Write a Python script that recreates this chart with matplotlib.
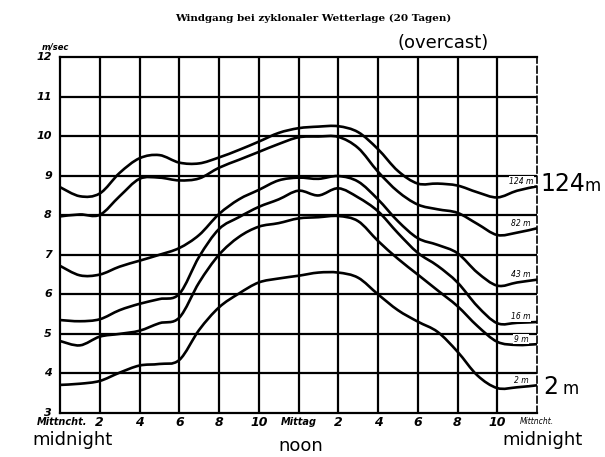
import matplotlib
matplotlib.use("Agg")
import matplotlib.pyplot as plt
from matplotlib.path import Path
from matplotlib.patches import PathPatch
from matplotlib.transforms import blended_transform_factory

# ---- data (hour of day, wind speed m/sec) ----
hours = [0, 1, 2, 3, 4, 5, 6, 7, 8, 9, 10, 11, 12,
         13, 14, 15, 16, 17, 18, 19, 20, 21, 22, 23, 24]

wind_124m = [8.71, 8.48, 8.55, 9.07, 9.44, 9.52, 9.33, 9.31, 9.46, 9.65, 9.86, 10.08, 10.2,
             10.24, 10.25, 10.1, 9.67, 9.12, 8.8, 8.8, 8.75, 8.58, 8.45, 8.62, 8.73]
wind_82m = [7.97, 8.02, 8.01, 8.48, 8.92, 8.95, 8.88, 8.93, 9.2, 9.4, 9.6, 9.8, 9.97,
            9.99, 9.98, 9.7, 9.1, 8.6, 8.27, 8.15, 8.06, 7.78, 7.5, 7.56, 7.67]
wind_43m = [6.72, 6.48, 6.5, 6.7, 6.85, 7.0, 7.17, 7.5, 8.03, 8.4, 8.64, 8.88, 8.95,
            8.92, 8.99, 8.85, 8.4, 7.85, 7.42, 7.25, 7.04, 6.55, 6.22, 6.3, 6.37]
wind_16m = [5.35, 5.32, 5.37, 5.6, 5.76, 5.88, 6.01, 6.95, 7.65, 7.95, 8.21, 8.4, 8.62,
            8.5, 8.68, 8.45, 8.1, 7.55, 7.05, 6.72, 6.3, 5.7, 5.27, 5.28, 5.3]
wind_9m = [4.82, 4.71, 4.93, 5.0, 5.08, 5.27, 5.41, 6.3, 7.0, 7.45, 7.71, 7.8, 7.92,
           7.95, 7.98, 7.85, 7.35, 6.9, 6.5, 6.1, 5.7, 5.2, 4.8, 4.72, 4.74]
wind_2m = [3.71, 3.74, 3.81, 4.02, 4.2, 4.24, 4.34, 5.1, 5.67, 6.02, 6.3, 6.4, 6.47,
           6.55, 6.55, 6.42, 6.0, 5.6, 5.31, 5.05, 4.55, 3.95, 3.63, 3.65, 3.7]

series = [wind_124m, wind_82m, wind_43m, wind_16m, wind_9m, wind_2m]
small_labels = ["124 m", "82 m", "43 m", "16 m", "9 m", "2 m"]

y_ticks = [3, 4, 5, 6, 7, 8, 9, 10, 11, 12]
x_tick_pos = [2, 4, 6, 8, 10, 14, 16, 18, 20, 22]
x_tick_lab = ["2", "4", "6", "8", "10", "2", "4", "6", "8", "10"]

title = "Windgang bei zyklonaler Wetterlage (20 Tagen)"


def smooth_path(xs, ys):
    """Catmull-Rom style cubic Bezier path passing through every data point."""
    n = len(xs)
    verts = [(xs[0], ys[0])]
    codes = [Path.MOVETO]
    for i in range(n - 1):
        i0 = max(i - 1, 0)
        i3 = min(i + 2, n - 1)
        c1 = (xs[i] + (xs[i + 1] - xs[i0]) / 6, ys[i] + (ys[i + 1] - ys[i0]) / 6)
        c2 = (xs[i + 1] - (xs[i3] - xs[i]) / 6, ys[i + 1] - (ys[i3] - ys[i]) / 6)
        verts += [c1, c2, (xs[i + 1], ys[i + 1])]
        codes += [Path.CURVE4, Path.CURVE4, Path.CURVE4]
    return Path(verts, codes)


# ---- figure ----
fig = plt.figure(figsize=(6.05, 4.57), dpi=100)
ax = fig.add_axes([60 / 605, 1 - 413 / 457, (537 - 60) / 605, (413 - 57) / 457])
ax.set_xlim(0, 24)
ax.set_ylim(3, 12)

# grid
for h in range(2, 24, 2):
    ax.axvline(h, color="black", lw=1.6, zorder=1)
for v in range(4, 12):
    ax.axhline(v, color="black", lw=1.6, zorder=1)

for side in ["left", "top", "bottom"]:
    ax.spines[side].set_linewidth(1.6)
ax.spines["right"].set_linewidth(1.2)
ax.spines["right"].set_linestyle((0, (4, 2)))
ax.set_xticks([])
ax.set_yticks([])

# curves
for s in series:
    ax.add_patch(PathPatch(smooth_path(hours, s), facecolor="none",
                           edgecolor="black", lw=1.9, zorder=3))

# small labels inside the last column
for s, lab in zip(series, small_labels):
    ax.text(23.2, s[-1] + 0.13, lab, fontsize=5.5, style="italic",
            ha="center", va="center", zorder=4,
            bbox=dict(facecolor="white", edgecolor="none", pad=0.3))

# y tick labels
ytr = blended_transform_factory(fig.transFigure, ax.transData)
for v in y_ticks:
    ax.text(52 / 605, v, str(v), transform=ytr, fontsize=8, style="italic",
            fontweight="bold", ha="right", va="center")
fig.text(42 / 605, 1 - 47 / 457, "m/sec", fontsize=6, style="italic",
         fontweight="bold", ha="left", va="center")

# x tick labels
xtr = blended_transform_factory(ax.transData, fig.transFigure)
ylab = 1 - 422 / 457
for p, lab in zip(x_tick_pos, x_tick_lab):
    ax.text(p, ylab, lab, transform=xtr, fontsize=9, style="italic",
            fontweight="bold", ha="center", va="center")
ax.text(0.1, ylab, "Mittncht.", transform=xtr, fontsize=7, style="italic",
        fontweight="bold", ha="center", va="center")
ax.text(12, ylab, "Mittag", transform=xtr, fontsize=7, style="italic",
        fontweight="bold", ha="center", va="center")
ax.text(24, ylab, "Mittncht.", transform=xtr, fontsize=5.5, style="italic",
        ha="center", va="center")

# English annotations
fig.text(72 / 605, 1 - 440 / 457, "midnight", fontsize=13, ha="center", va="center")
fig.text(301 / 605, 1 - 446 / 457, "noon", fontsize=13, ha="center", va="center")
fig.text(543 / 605, 1 - 440 / 457, "midnight", fontsize=13, ha="center", va="center")
fig.text(443 / 605, 1 - 43 / 457, "(overcast)", fontsize=13, ha="center", va="center")
fig.text(540 / 605, 1 - 184 / 457, "124", fontsize=17, ha="left", va="center")
fig.text(585 / 605, 1 - 186 / 457, "m", fontsize=12, ha="left", va="center")
fig.text(543 / 605, 1 - 387 / 457, "2", fontsize=17, ha="left", va="center")
fig.text(562 / 605, 1 - 389 / 457, "m", fontsize=12, ha="left", va="center")

fig.text(313 / 605, 1 - 18 / 457, title, fontsize=7.5, family="DejaVu Serif",
         fontweight="bold", ha="center", va="center")

fig.savefig("out.png", dpi=100)
